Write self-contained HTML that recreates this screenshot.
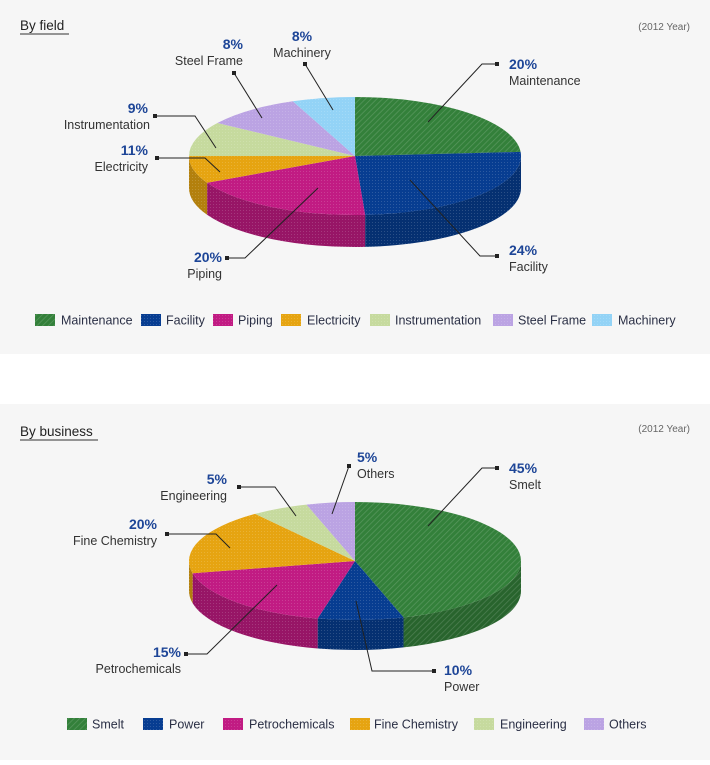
<!DOCTYPE html>
<html><head><meta charset="utf-8"><style>
body{margin:0;width:710px;height:760px;background:#fff;overflow:hidden;font-family:"Liberation Sans",sans-serif}
</style></head><body>
<svg id="s" width="710" height="760" xmlns="http://www.w3.org/2000/svg" font-family="Liberation Sans, sans-serif">
<defs>
<pattern id="hatch" width="4" height="4" patternUnits="userSpaceOnUse" patternTransform="rotate(45)"><rect width="4" height="4" fill="none"/><line x1="0" y1="0" x2="0" y2="4" stroke="#ffffff" stroke-opacity="0.18" stroke-width="1.5"/></pattern>
<pattern id="dots" width="3" height="3" patternUnits="userSpaceOnUse"><rect x="0" y="0" width="1" height="1" fill="#fff" fill-opacity="0.15"/></pattern>
</defs>
<rect x="0" y="0" width="710" height="354" fill="#f6f6f6"/>
<rect x="0" y="404" width="710" height="356" fill="#f6f6f6"/>
<g font-size="13" fill="#222">
<text x="20" y="30" font-size="13.5">By field</text>
<line x1="20" y1="34" x2="69" y2="34" stroke="#333" stroke-width="1"/>
<text x="690" y="30" font-size="10" fill="#666" text-anchor="end">(2012 Year)</text>
<text x="20" y="436" font-size="13.5">By business</text>
<line x1="20" y1="440" x2="98" y2="440" stroke="#333" stroke-width="1"/>
<text x="690" y="432" font-size="10" fill="#666" text-anchor="end">(2012 Year)</text>
</g>
<g id="pies"></g>
<g id="lab" font-size="12.5" fill="#333"></g>
</svg>
<script>
var NS="http://www.w3.org/2000/svg";
function el(p,t,a,txt){var e=document.createElementNS(NS,t);for(var k in a)e.setAttribute(k,a[k]);if(txt!==undefined)e.textContent=txt;p.appendChild(e);return e;}
function shade(h,f){var n=parseInt(h.slice(1),16);var r=Math.round((n>>16)*f),g=Math.round(((n>>8)&255)*f),b=Math.round((n&255)*f);return "rgb("+r+","+g+","+b+")";}
var pies=document.getElementById('pies'),lab=document.getElementById('lab');
function pie(cx,cy,rx,ry,d,sl){
 function P(t,dy){var a=t*Math.PI/180;return [cx+rx*Math.sin(a),cy-ry*Math.cos(a)+(dy||0)];}
 sl.forEach(function(s){
  var a=Math.max(s[0],90),b=Math.min(s[1],270);if(b<=a)return;
  var p1=P(a),p2=P(b),p3=P(b,d),p4=P(a,d);
  var dstr="M"+p1+" A"+rx+","+ry+" 0 0 1 "+p2+" L"+p3+" A"+rx+","+ry+" 0 0 0 "+p4+"Z";
  el(pies,"path",{d:dstr,fill:shade(s[2],0.78)});
  el(pies,"path",{d:dstr,fill:"url(#"+s[3]+")"});
 });
 sl.forEach(function(s){
  var p1=P(s[0]),p2=P(s[1]);var large=(s[1]-s[0])>180?1:0;
  var dstr="M"+cx+","+cy+" L"+p1+" A"+rx+","+ry+" 0 "+large+" 1 "+p2+"Z";
  el(pies,"path",{d:dstr,fill:s[2]});
  el(pies,"path",{d:dstr,fill:"url(#"+s[3]+")"});
 });
}
var G="#33803a",B="#073d91",M="#c11b83",O="#e6a411",LG="#c6da9e",L="#bba3e3",SB="#93d3f6";
pie(355,156,166,59,32,[[0,86,G,"hatch"],[86,176.5,B,"dots"],[176.5,243,M,"dots"],[243,270,O,"dots"],[270,304,LG,"dots"],[304,338,L,"dots"],[338,360,SB,"dots"]]);
pie(355,561,166,59,30,[[0,163,G,"hatch"],[163,193,B,"dots"],[193,258,M,"dots"],[258,323,O,"dots"],[323,343,LG,"dots"],[343,360,L,"dots"]]);
function leader(pts){el(lab,"polyline",{points:pts.map(function(p){return p.join(",")}).join(" "),fill:"none",stroke:"#222","stroke-width":1});el(lab,"rect",{x:pts[0][0]-2,y:pts[0][1]-2,width:4,height:4,fill:"#222"});}
function L2(x,y,pct,name,anchor,x2){el(lab,"text",{x:x,y:y,"text-anchor":anchor,fill:"#1d4597","font-size":"14","font-weight":"600"},pct);el(lab,"text",{x:(x2||x),y:y+16,"text-anchor":anchor},name);}
leader([[497,64],[482,64],[428,122]]);L2(509,69,"20%","Maintenance","start");
leader([[497,256],[480,256],[410,180]]);L2(509,255,"24%","Facility","start");
leader([[227,258],[245,258],[318,188]]);L2(222,262,"20%","Piping","end");
leader([[157,158],[205,158],[220,172]]);L2(148,155,"11%","Electricity","end");
leader([[155,116],[195,116],[216,148]]);L2(148,113,"9%","Instrumentation","end",150);
leader([[234,73],[262,118]]);L2(243,49,"8%","Steel Frame","end");
leader([[305,64],[333,110]]);L2(302,41,"8%","Machinery","middle");
leader([[497,468],[482,468],[428,526]]);L2(509,473,"45%","Smelt","start");
leader([[434,671],[372,671],[356,601]]);L2(444,675,"10%","Power","start");
leader([[186,654],[207,654],[277,585]]);L2(181,657,"15%","Petrochemicals","end");
leader([[167,534],[216,534],[230,548]]);L2(157,529,"20%","Fine Chemistry","end");
leader([[239,487],[275,487],[296,516]]);L2(227,484,"5%","Engineering","end");
leader([[349,466],[332,514]]);L2(357,462,"5%","Others","start");
function legend(y,items){items.forEach(function(it){el(lab,"rect",{x:it[0],y:y-6,width:20,height:12,fill:it[2]});el(lab,"rect",{x:it[0],y:y-6,width:20,height:12,fill:"url(#"+(it[2]==G?"hatch":"dots")+")"});el(lab,"text",{x:it[1],y:y+4.5,fill:"#2a2f45","font-size":"12.5"},it[3]);});}
legend(320,[[35,61,G,"Maintenance"],[141,166,B,"Facility"],[213,238,M,"Piping"],[281,307,O,"Electricity"],[370,395,LG,"Instrumentation"],[493,518,L,"Steel Frame"],[592,618,SB,"Machinery"]]);
legend(724,[[67,92,G,"Smelt"],[143,169,B,"Power"],[223,249,M,"Petrochemicals"],[350,374,O,"Fine Chemistry"],[474,500,LG,"Engineering"],[584,609,L,"Others"]]);
</script>
</body></html>
